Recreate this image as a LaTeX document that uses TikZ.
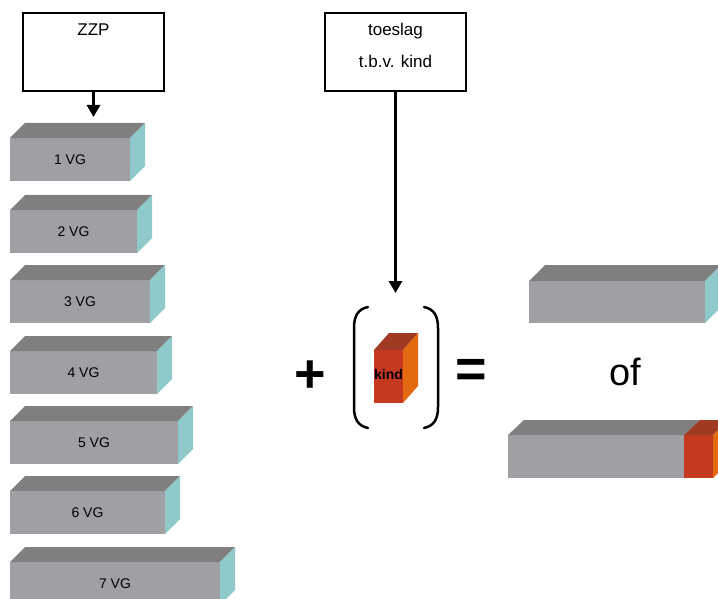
\documentclass[tikz,border=0pt]{standalone}
\usepackage{fontspec}
\setmainfont{Liberation Sans}
\usetikzlibrary{arrows.meta}
\usetikzlibrary{positioning}

\definecolor{blokgrijs}{HTML}{9FA0A4}
\definecolor{blokdonker}{HTML}{7F7F7F}
\definecolor{bloktaling}{HTML}{8FC9C9}
\definecolor{kindrood}{HTML}{C4391F}
\definecolor{kindtop}{HTML}{A13A22}
\definecolor{kindzij}{HTML}{E46A12}

\tikzset{
  kop/.style={draw, line width=2pt, minimum width=141pt, minimum height=78pt, inner sep=0pt, outer sep=0pt, anchor=north west},
  tekst/.style={inner sep=0pt, font=\fontsize{17}{20}\selectfont},
  voorkant/.style={fill=blokgrijs, inner sep=0pt, outer sep=0pt, anchor=north west, font=\fontsize{14}{16}\selectfont},
  bovenkant/.style={fill=blokdonker},
  zijkant/.style={fill=bloktaling},
  pijl/.style={line width=3.5pt, -{Triangle[width=13pt,length=12pt]}},
  haak/.style={line width=2.5pt, line cap=round},
  teken/.style={inner sep=0pt, font=\bfseries\fontsize{54}{60}\selectfont},
}

\begin{document}
\begin{tikzpicture}[x=1pt,y=-1pt]

    \useasboundingbox (0,0) rectangle (718,599);
    \clip (0,0) rectangle (718,599);

    % ZZP
    \node[kop] (zzp) at (23,13) {};
    \node[tekst] (zzptxt) at (93.5,30) {ZZP};
    \coordinate (zzpeind) at (zzp.south |- 0,117);
    \draw[pijl] (zzp.south) -- (zzpeind);

    % blokken VG
    \foreach \n/\y/\w in {1/138/120, 2/210/127, 3/280/140, 4/351/147, 5/421/168, 6/491/155, 7/562/210} {
        \node[voorkant, minimum width=\w pt, minimum height=43pt] (b\n) at (10,\y) {\n{} VG};
        \fill[bovenkant] (b\n.north west) -- ++(15,-15) -- ++(\w,0) -- (b\n.north east) -- cycle;
        \fill[zijkant] (b\n.north east) -- ++(15,-15) -- ++(0,43) -- (b\n.south east) -- cycle;
    }

    %%%%%%%%%%%%%%%%%%%%%%%%%%%%%%%%%%%%%%%%%%%%%%%%%%%%%%%%%

    % toeslag
    \node[kop] (toeslag) at (325,13) {};
    \node[tekst] (toeslagtxt) at (395.5,31) {toeslag};
    \node[tekst] (tbvtxt) at (395.5,61) {t.b.v. kind};
    \coordinate (toeslageind) at (toeslag.south |- 0,293);
    \draw[pijl] (toeslag.south) -- (toeslageind);

    % plus
    \node[teken] (plus) at (310,377) {+};

    % haken
    \draw[haak] (368,307) .. controls (358,309) and (354,316) .. (354,328) -- (354,407) .. controls (354,419) and (358,426) .. (368,428);
    \draw[haak] (424,307) .. controls (434,309) and (438,316) .. (438,328) -- (438,407) .. controls (438,419) and (434,426) .. (424,428);

    % kind
    \node[voorkant, fill=kindrood, minimum width=29pt, minimum height=53pt, font=\bfseries\fontsize{14}{16}\selectfont] (kind) at (374,350) {\raisebox{4pt}{kind}};
    \fill[kindtop] (kind.north west) -- ++(15,-17) -- ++(29,0) -- (kind.north east) -- cycle;
    \fill[kindzij] (kind.north east) -- ++(15,-17) -- ++(0,53) -- (kind.south east) -- cycle;

    % is
    \node[teken] (is) at (471,373) {=};

    %%%%%%%%%%%%%%%%%%%%%%%%%%%%%%%%%%%%%%%%%%%%%%%%%%%%%%%%%

    % zonder kind
    \node[voorkant, minimum width=176pt, minimum height=42pt] (zonder) at (529,281) {};
    \fill[bovenkant] (zonder.north west) -- ++(16,-16) -- ++(176,0) -- (zonder.north east) -- cycle;
    \fill[zijkant] (zonder.north east) -- ++(16,-16) -- ++(0,42) -- (zonder.south east) -- cycle;

    % of
    \node[inner sep=0pt, font=\fontsize{38}{42}\selectfont] (of) at (625,372) {of};

    % met kind
    \node[voorkant, minimum width=176pt, minimum height=43pt] (met) at (508,435) {};
    \fill[bovenkant] (met.north west) -- ++(16,-15) -- ++(176,0) -- (met.north east) -- cycle;
    \node[voorkant, fill=kindrood, minimum width=29pt, minimum height=43pt] (metkind) at (684,435) {};
    \fill[kindtop] (metkind.north west) -- ++(16,-15) -- ++(29,0) -- (metkind.north east) -- cycle;
    \fill[kindzij] (metkind.north east) -- ++(16,-15) -- ++(0,43) -- (metkind.south east) -- cycle;

\end{tikzpicture}
\end{document}
